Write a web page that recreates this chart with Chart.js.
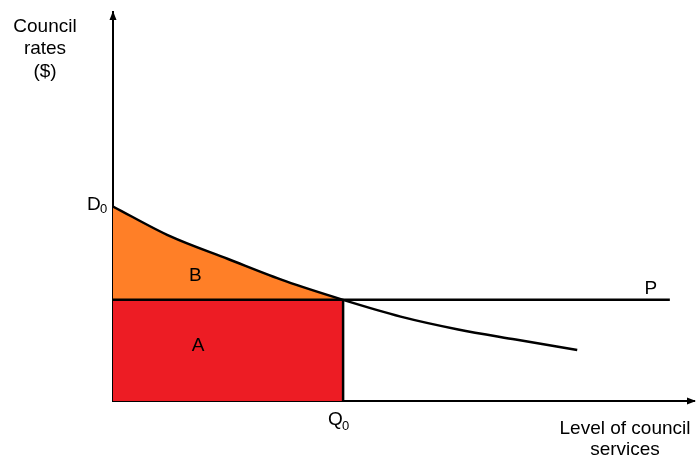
<!DOCTYPE html>
<html>
<head>
<meta charset="utf-8">
<script src="https://cdn.jsdelivr.net/npm/chart.js@4/dist/chart.umd.min.js"></script>
<style>
  html, body { margin: 0; padding: 0; background: #fff; }
  #wrap { width: 697px; height: 459px; }
</style>
</head>
<body>
<div id="wrap"><canvas id="chart"></canvas></div>
<script>
// demand curve (x = level of services, y = rates)
const curveX = [0, 10, 20, 30, 40, 50, 60, 70, 80.7];
const curveY = [50, 42.3, 36.5, 30.8, 26, 21.7, 18.4, 15.8, 13.1];
const priceP = 26;
const quantityQ0 = 40;
const priceLineEnd = 96.8;
const xRange = [0, 101];
const yRange = [0, 100];

const RED = '#ED1C24';
const ORANGE = '#FF7F27';
const FONT = '"Liberation Sans", Arial, sans-serif';

const curvePts = curveX.map((x, i) => ({ x, y: curveY[i] }));
const leftPts = curvePts.filter(p => p.x <= quantityQ0);

// axis arrow heads
const arrows = {
  id: 'arrows',
  afterDraw(chart) {
    const { ctx, chartArea: a } = chart;
    ctx.save();
    ctx.fillStyle = '#000';
    ctx.beginPath();
    ctx.moveTo(a.left, a.top - 1);
    ctx.lineTo(a.left - 3.5, a.top + 8);
    ctx.lineTo(a.left + 3.5, a.top + 8);
    ctx.closePath();
    ctx.fill();
    ctx.beginPath();
    ctx.moveTo(a.right + 2, a.bottom);
    ctx.lineTo(a.right - 7, a.bottom - 3.5);
    ctx.lineTo(a.right - 7, a.bottom + 3.5);
    ctx.closePath();
    ctx.fill();
    ctx.restore();
  }
};

// diagram labels
const labels = {
  id: 'labels',
  afterDraw(chart) {
    const { ctx } = chart;
    const xs = chart.scales.x, ys = chart.scales.y;
    const px = v => xs.getPixelForValue(v);
    const py = v => ys.getPixelForValue(v);
    ctx.save();
    ctx.fillStyle = '#000';
    ctx.textAlign = 'center';
    ctx.textBaseline = 'middle';
    ctx.font = '19px ' + FONT;
    ctx.fillText('Council', 45, 27);
    ctx.fillText('rates', 45, 49);
    ctx.fillText('($)', 45, 72);
    ctx.fillText('Level of council', 625, 429);
    ctx.fillText('services', 625, 450);
    ctx.fillText('B', px(14.3), py(37.5) + 21);
    ctx.fillText('A', px(14.8), py(14.7) + 2);
    ctx.fillText('P', px(93.5), py(priceP) - 11);
    // D0 and Q0 with subscripts
    ctx.textAlign = 'left';
    ctx.fillText('D', 87, py(curveY[0]) - 2);
    ctx.fillText('Q', px(quantityQ0) - 15, py(0) + 19);
    ctx.font = '13px ' + FONT;
    ctx.fillText('0', 100, py(curveY[0]) + 3);
    ctx.fillText('0', px(quantityQ0) - 1, py(0) + 25);
    ctx.restore();
  }
};

const axisOpts = (range, fit) => ({
  type: 'linear',
  min: range[0],
  max: range[1],
  grid: { display: false, drawTicks: false },
  border: { display: true, color: '#000', width: 2 },
  ticks: { display: false },
  afterFit: fit
});

new Chart(document.getElementById('chart'), {
  type: 'scatter',
  data: {
    datasets: [
      { data: [{ x: 0, y: priceP }, { x: quantityQ0, y: priceP }], showLine: true,
        fill: 'origin', backgroundColor: RED, borderWidth: 0, pointRadius: 0, order: 3 },
      { data: leftPts, showLine: true, fill: { value: priceP }, backgroundColor: ORANGE,
        borderWidth: 0, pointRadius: 0, cubicInterpolationMode: 'monotone', order: 3 },
      { data: curvePts, showLine: true, borderColor: '#000', borderWidth: 2.5,
        pointRadius: 0, cubicInterpolationMode: 'monotone', order: 1 },
      { data: [{ x: 0, y: priceP }, { x: priceLineEnd, y: priceP }], showLine: true,
        borderColor: '#000', borderWidth: 2.5, pointRadius: 0, order: 1 },
      { data: [{ x: quantityQ0, y: 0 }, { x: quantityQ0, y: priceP }], showLine: true,
        borderColor: '#000', borderWidth: 2.5, pointRadius: 0, order: 1 }
    ]
  },
  options: {
    responsive: true,
    maintainAspectRatio: false,
    animation: false,
    layout: { padding: { top: 12, right: 3, left: 0, bottom: 0 } },
    plugins: { legend: { display: false }, tooltip: { enabled: false } },
    scales: {
      x: axisOpts(xRange, s => { s.height = 58; }),
      y: axisOpts(yRange, s => { s.width = 113; })
    }
  },
  plugins: [arrows, labels]
});
</script>
</body>
</html>
